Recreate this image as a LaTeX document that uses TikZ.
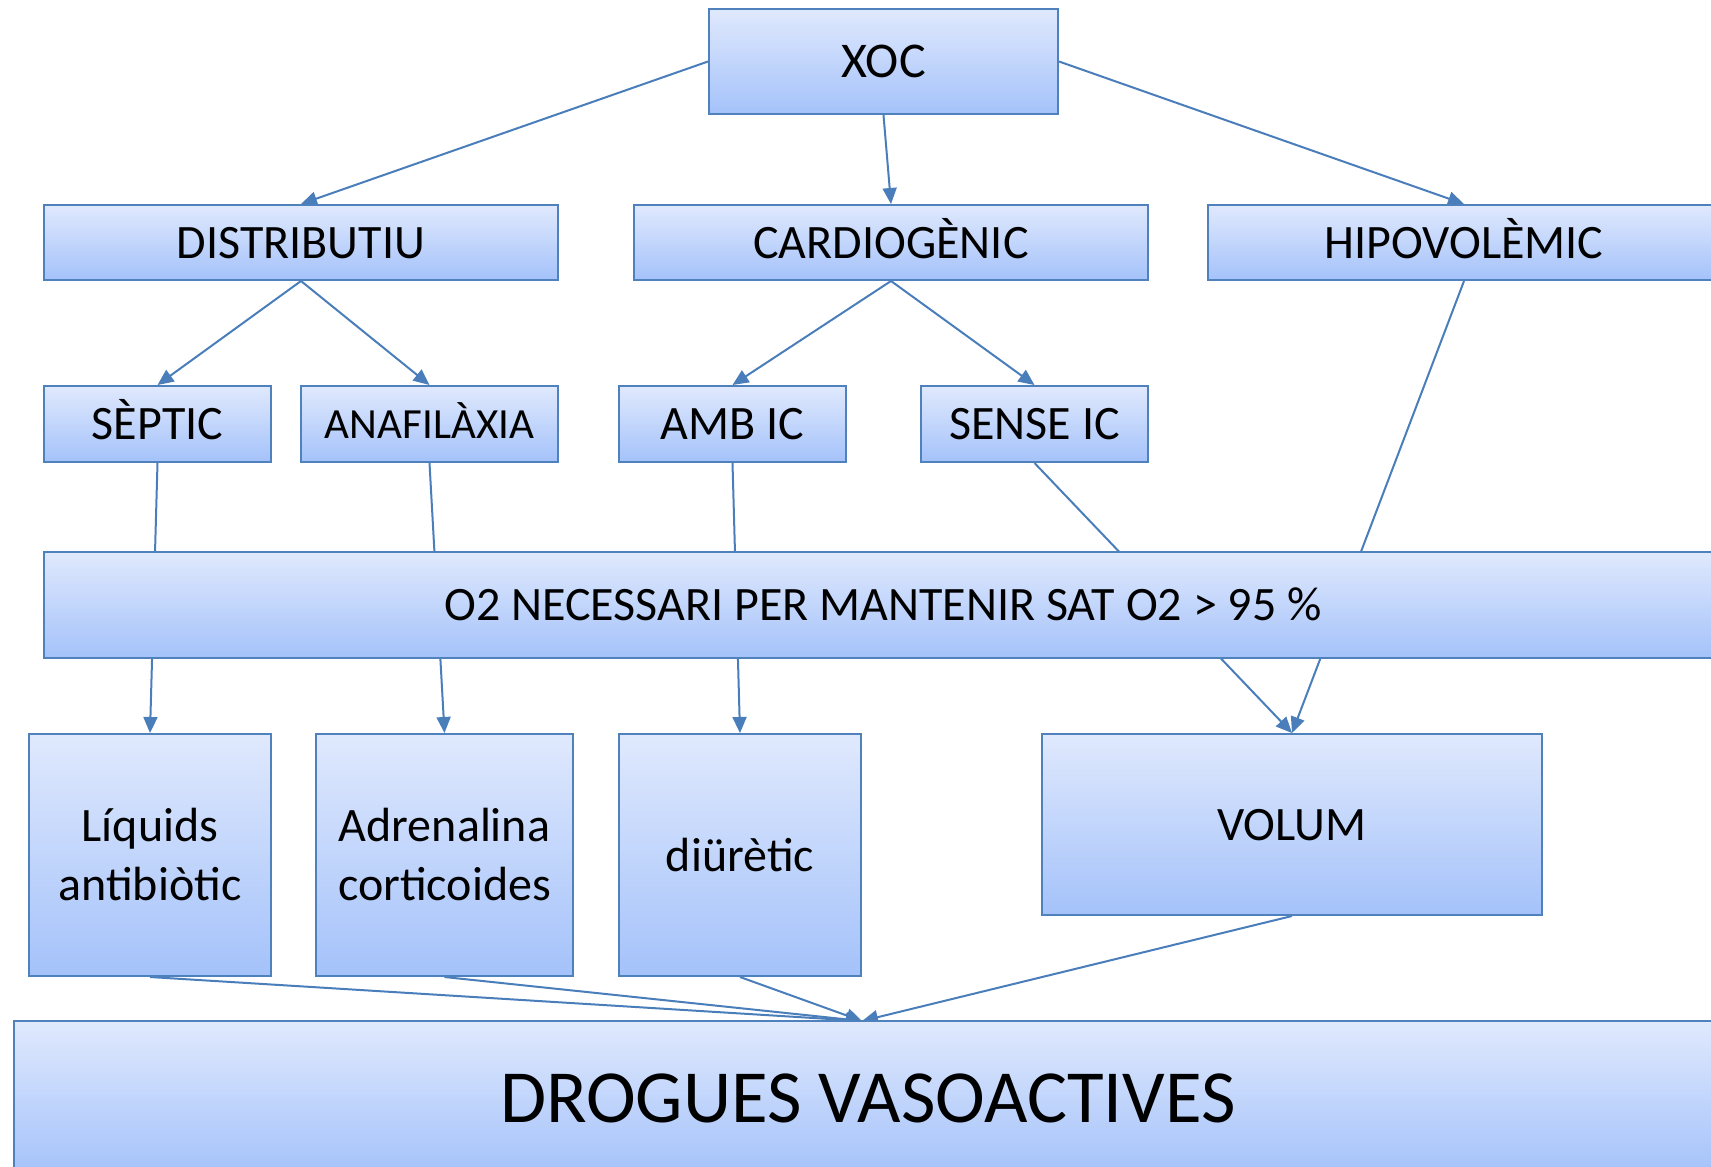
\documentclass[tikz,border=0pt]{standalone}
\usepackage{fontspec}
\setmainfont{Carlito}
\usetikzlibrary{arrows.meta}
\pgfdeclarelayer{background}
\pgfsetlayers{background,main}
\definecolor{boxborder}{RGB}{79,129,189}
\definecolor{linkcol}{RGB}{74,126,187}
\definecolor{boxtop}{RGB}{224,233,253}
\definecolor{boxbot}{RGB}{164,194,250}
\tikzset{
  box/.style={draw=boxborder, line width=2pt, top color=boxtop, bottom color=boxbot,
    inner sep=0pt, align=center, font=\fontsize{48}{59}\selectfont},
  oneline/.style={text height=31pt, text depth=0pt},
  link/.style={draw=linkcol, line width=2pt},
  arr/.style={link, -{Triangle[length=16pt,width=14pt]}}
}
\begin{document}
\begin{tikzpicture}[x=1pt,y=-1pt]
\useasboundingbox (0,0) rectangle (1711,1167);
\clip (0,0) rectangle (1711,1167);
\node[box, oneline, minimum width=349pt, minimum height=105pt, font=\fontsize{50}{60}\selectfont, text height=32pt] (xoc) at (883.5,61.5) {XOC};
\node[box, oneline, minimum width=514pt, minimum height=75pt] (dist) at (301,242.5) {DISTRIBUTIU};
\node[box, oneline, minimum width=514pt, minimum height=75pt] (card) at (891,242.5) {CARDIOGÈNIC};
\node[box, oneline, minimum width=512pt, minimum height=75pt] (hipo) at (1464,242.5) {HIPOVOLÈMIC};
\node[box, oneline, minimum width=227pt, minimum height=76pt] (sept) at (157.5,424) {SÈPTIC};
\node[box, oneline, minimum width=257pt, minimum height=76pt, font=\fontsize{43}{52}\selectfont, text height=28pt] (anaf) at (429.5,424) {ANAFILÀXIA};
\node[box, oneline, minimum width=227pt, minimum height=76pt] (amb) at (732.5,424) {AMB IC};
\node[box, oneline, minimum width=227pt, minimum height=76pt] (sense) at (1034.5,424) {SENSE IC};
\node[box, oneline, minimum width=1678pt, minimum height=106pt] (o2) at (883,605) {O2 NECESSARI PER MANTENIR SAT O2 > 95 \%};
\node[box, minimum width=242pt, minimum height=242pt] (liq) at (150,855) {Líquids\\antibiòtic};
\node[box, minimum width=257pt, minimum height=242pt] (adr) at (444.5,855) {Adrenalina\\corticoides};
\node[box, minimum width=242pt, minimum height=242pt] (diur) at (740,855) {diürètic};
\node[box, oneline, minimum width=500pt, minimum height=181pt] (vol) at (1292,824.5) {VOLUM};
\node[box, oneline, minimum width=1708pt, minimum height=154pt, font=\fontsize{75}{82}\selectfont, text height=48pt] (drog) at (868,1098) {DROGUES VASOACTIVES};
\coordinate (dtop) at (862,1021);
\begin{pgfonlayer}{background}
\draw[arr] (xoc.west) -- (dist.north);
\draw[arr] (xoc.south) -- (card.north);
\draw[arr] (xoc.east) -- (hipo.north);
\draw[arr] (dist.south) -- (sept.north);
\draw[arr] (dist.south) -- (anaf.north);
\draw[arr] (card.south) -- (amb.north);
\draw[arr] (card.south) -- (sense.north);
\draw[arr] (sept.south) -- (liq.north);
\draw[arr] (anaf.south) -- (adr.north);
\draw[arr] (amb.south) -- (diur.north);
\draw[arr] (sense.south) -- (vol.north);
\draw[arr] (hipo.south) -- (vol.north);
\draw[arr] (liq.south) -- (dtop);
\draw[arr] (adr.south) -- (dtop);
\draw[arr] (diur.south) -- (dtop);
\draw[arr] (vol.south) -- (dtop);
\end{pgfonlayer}
\end{tikzpicture}
\end{document}
